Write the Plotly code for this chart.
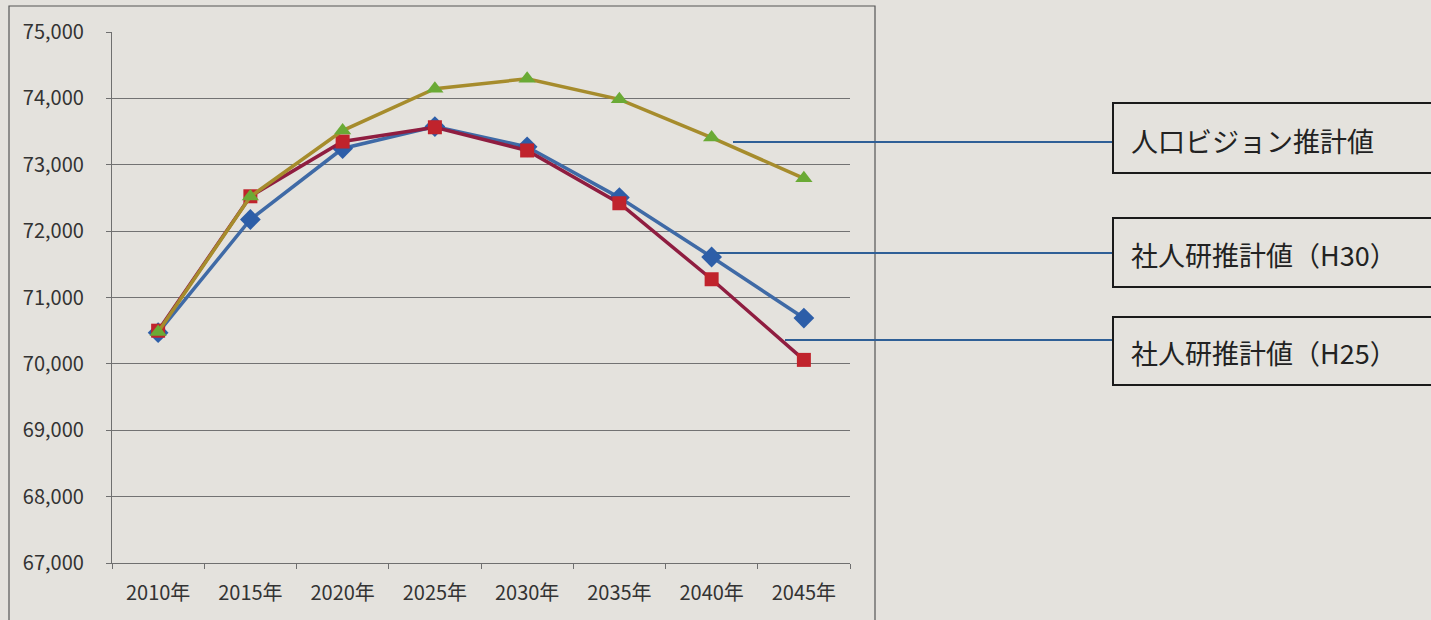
"""Population projection comparison chart"""

from plotly import graph_objects as go

W, H = 1431, 620

years = ["2010年", "2015年", "2020年", "2025年", "2030年", "2035年", "2040年", "2045年"]
vision = [70480, 72520, 73515, 74145, 74295, 73985, 73410, 72795]
ipss_h30 = [70470, 72175, 73245, 73575, 73270, 72505, 71610, 70690]
ipss_h25 = [70500, 72525, 73350, 73565, 73215, 72420, 71275, 70060]

labels = ["人口ビジョン推計値", "社人研推計値（H30）", "社人研推計値（H25）"]
y_ticks = [67000, 68000, 69000, 70000, 71000, 72000, 73000, 74000, 75000]

BG = "#e4e2dd"
FONT = "Noto Sans CJK JP"


def px(x):
    return x / W


def py(y):
    return 1 - y / H


fig = go.Figure()

# draw order: blue under red under green
fig.add_trace(
    go.Scatter(
        x=years, y=ipss_h30, name=labels[1], mode="lines+markers",
        line=dict(color="#3f6aa6", width=3.5),
        marker=dict(symbol="diamond", size=16, color="#2d5ea8"),
    )
)
fig.add_trace(
    go.Scatter(
        x=years, y=ipss_h25, name=labels[2], mode="lines+markers",
        line=dict(color="#8f1d40", width=3.5),
        marker=dict(symbol="square", size=14, color="#c0232c"),
    )
)
fig.add_trace(
    go.Scatter(
        x=years, y=vision, name=labels[0], mode="lines+markers",
        line=dict(color="#a68c2c", width=3.5),
        marker=dict(symbol="triangle-up", size=15, color="#6aaa35"),
    )
)

shapes = []
# outer chart frame
shapes.append(dict(type="rect", xref="paper", yref="paper",
                   x0=px(9), x1=px(875), y0=py(6), y1=py(640),
                   line=dict(color="#555", width=1.2), layer="below"))

# callout lines and label boxes
callouts = [
    (733, 142, 103, 173, 140),
    (716, 253, 218, 287, 254),
    (785, 340, 317, 385, 352),
]
annotations = []
for (x_start, y_line, box_top, box_bot, y_text), text in zip(callouts, labels):
    shapes.append(dict(type="line", xref="paper", yref="paper",
                       x0=px(x_start), x1=px(1113), y0=py(y_line), y1=py(y_line),
                       line=dict(color="#2f5f96", width=2)))
    shapes.append(dict(type="rect", xref="paper", yref="paper",
                       x0=px(1113), x1=px(1440), y0=py(box_top), y1=py(box_bot),
                       line=dict(color="#1a1a1a", width=2)))
    annotations.append(dict(text=text, xref="paper", yref="paper",
                            x=px(1129), y=py(y_text), xanchor="left", yanchor="middle",
                            showarrow=False, font=dict(family=FONT, size=27, color="#222")))

fig.update_layout(
    width=W, height=H,
    margin=dict(l=0, r=0, t=0, b=0, autoexpand=False),
    paper_bgcolor=BG, plot_bgcolor=BG,
    showlegend=False,
    shapes=shapes,
    annotations=annotations,
    font=dict(family=FONT, color="#333"),
    xaxis=dict(
        domain=[px(112), px(850)],
        range=[-0.5, 7.5],
        automargin=False,
        showgrid=False,
        showline=True, linecolor="#6f6f6f", linewidth=1.2,
        ticks="outside", tickson="boundaries", ticklen=5, tickcolor="#6f6f6f",
        tickfont=dict(family=FONT, size=20, color="#333"),
        ticklabelstandoff=12,
    ),
    yaxis=dict(
        domain=[py(563), py(32)],
        range=[67000, 75000],
        automargin=False,
        tickvals=y_ticks,
        tickformat=",d",
        showgrid=True, gridcolor="#727272", gridwidth=1.3,
        zeroline=False,
        showline=True, linecolor="#6f6f6f", linewidth=1.2,
        ticks="outside", ticklen=5, tickcolor="#6f6f6f",
        tickfont=dict(family=FONT, size=20, color="#333"),
        ticklabelstandoff=18,
    ),
)

fig.write_html(
    "out.html",
    config={"displayModeBar": False},
    post_script="document.body.style.margin='0';document.body.style.background='%s';" % BG,
)
